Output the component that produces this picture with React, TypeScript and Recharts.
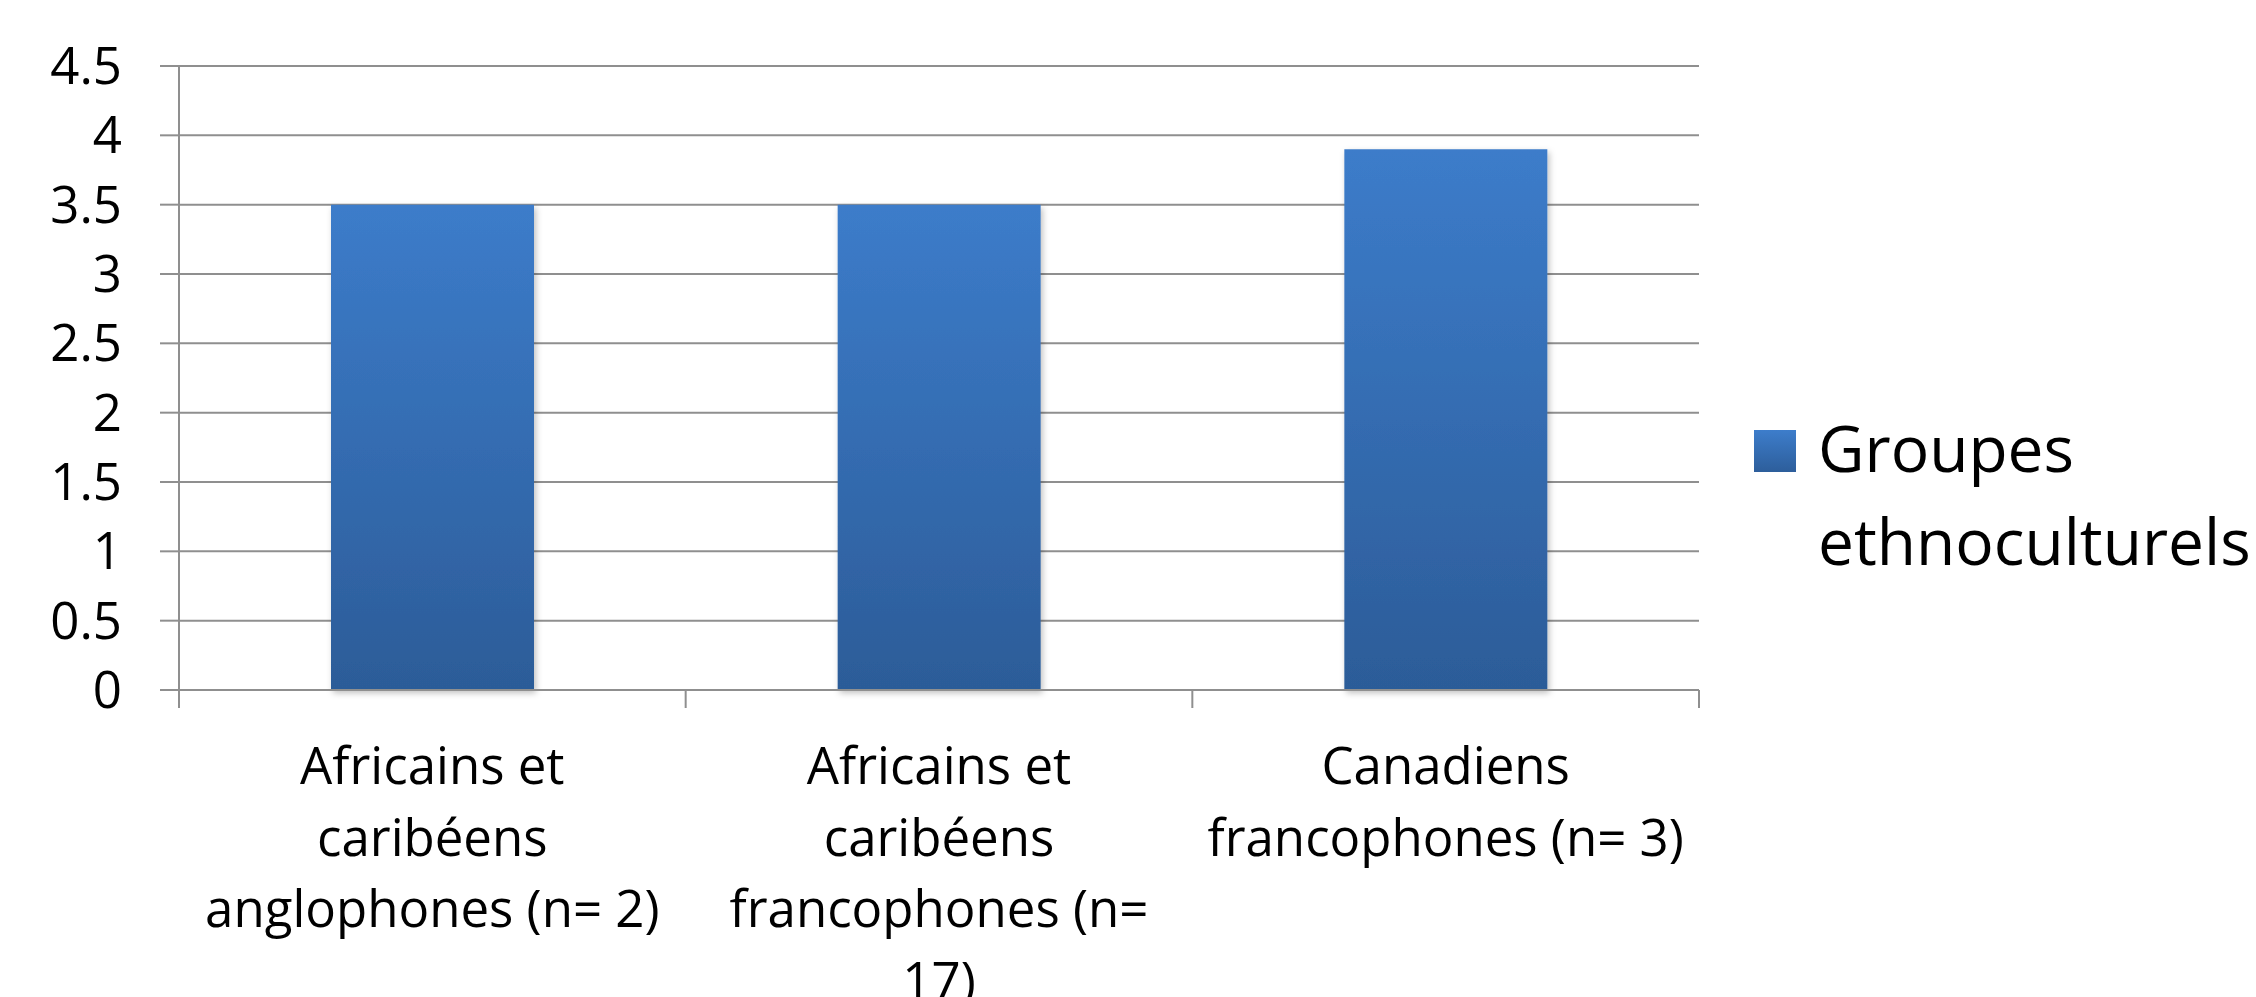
import { BarChart, Bar, XAxis, YAxis, CartesianGrid, Legend } from 'recharts';

// categories (line breaks as in the original slide)
const categories = [
  'Africains et\ncaribéens\nanglophones (n= 2)',
  'Africains et\ncaribéens\nfrancophones (n=\n17)',
  'Canadiens\nfrancophones (n= 3)',
];
const values = [3.5, 3.5, 3.9];
const seriesName = 'Groupes ethnoculturels';
const yTicks = [0, 0.5, 1, 1.5, 2, 2.5, 3, 3.5, 4, 4.5];
const boundaryTicks = [0, 1, 2, 3];

// edge = right boundary of each category slot (used by the tick-only axis)
const data = categories.map((c, i) => ({ category: c, value: values[i], edge: i + 1 }));

const FONT = "'Open Sans', sans-serif";
const GRID = '#8f8f8f';

function CategoryTick({ x, y, payload }: { x?: number; y?: number; payload?: { value: string } }) {
  const lines = String(payload?.value ?? '').split('\n');
  return (
    <text x={x} y={y} textAnchor="middle" fontFamily={FONT} fontSize={51} fill="#000">
      {lines.map((line, i) => (
        <tspan key={i} x={x} dy={i === 0 ? 93 : 71.5}>
          {line}
        </tspan>
      ))}
    </text>
  );
}

function LegendContent() {
  return (
    <div style={{ display: 'flex', alignItems: 'flex-start', fontFamily: FONT }}>
      <div
        style={{
          width: 42,
          height: 42,
          marginTop: 29,
          marginRight: 22,
          background: 'linear-gradient(#3d7dcb, #2d5e9b)',
          flex: 'none',
        }}
      />
      <div style={{ width: 440, fontSize: 64, lineHeight: '93px', color: '#000' }}>{seriesName}</div>
    </div>
  );
}

export default function App() {
  return (
    <div style={{ position: 'absolute', left: 0, top: 0, width: 2256, height: 997, background: '#fff' }}>
      <BarChart
        width={2256}
        height={997}
        data={data}
        margin={{ top: 66, right: 557, bottom: 305, left: 0 }}
        barCategoryGap="30%"
      >
        <defs>
          <linearGradient id="barGrad" x1="0" y1="0" x2="0" y2="1">
            <stop offset="0%" stopColor="#3c7cca" />
            <stop offset="100%" stopColor="#2c5c98" />
          </linearGradient>
          <filter id="barShadow" x="-10%" y="-10%" width="130%" height="130%">
            <feDropShadow dx="2" dy="3" stdDeviation="3" floodColor="#000" floodOpacity="0.25" />
          </filter>
        </defs>
        <CartesianGrid vertical={false} stroke={GRID} strokeWidth={2} />
        <XAxis
          xAxisId="boundary"
          dataKey="edge"
          type="number"
          domain={[0, 'dataMax']}
          ticks={boundaryTicks}
          interval={0}
          height={1}
          tick={() => <g />}
          tickSize={18}
          axisLine={{ stroke: GRID, strokeWidth: 2 }}
          tickLine={{ stroke: GRID, strokeWidth: 2 }}
        />
        <XAxis
          xAxisId="cat"
          dataKey="category"
          height={1}
          axisLine={false}
          tickLine={false}
          tickSize={0}
          tickMargin={0}
          interval={0}
          tick={<CategoryTick />}
        />
        <YAxis
          domain={[0, 4.5]}
          ticks={yTicks}
          interval={0}
          width={179}
          tickSize={19}
          tickMargin={38}
          axisLine={{ stroke: GRID, strokeWidth: 2 }}
          tickLine={{ stroke: GRID, strokeWidth: 2 }}
          tick={{ fill: '#000', fontSize: 51, fontFamily: FONT }}
        />
        <Legend
          layout="horizontal"
          align="center"
          verticalAlign="middle"
          content={<LegendContent />}
          wrapperStyle={{ left: 1754, top: 401, width: 502, height: 190 }}
        />
        <Bar
          xAxisId="cat"
          dataKey="value"
          name={seriesName}
          fill="url(#barGrad)"
          filter="url(#barShadow)"
          isAnimationActive={false}
        />
      </BarChart>
    </div>
  );
}
